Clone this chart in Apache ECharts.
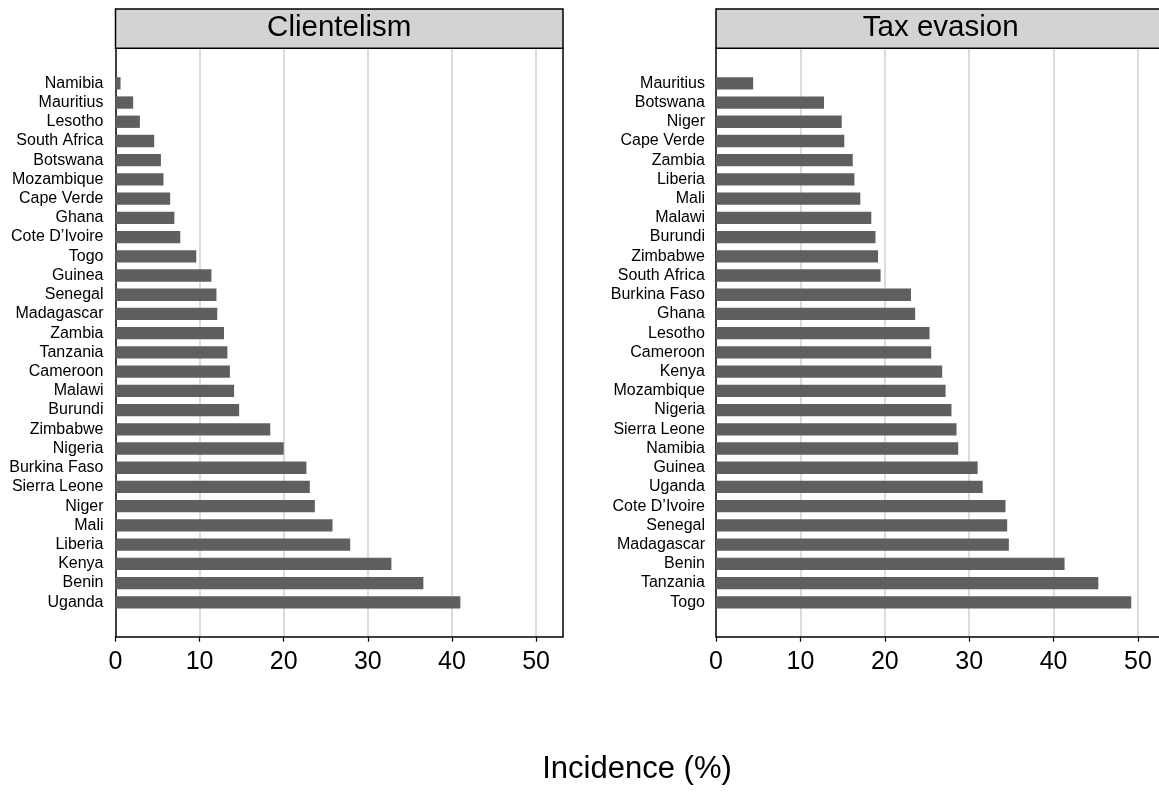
<!DOCTYPE html>
<html>
<head>
<meta charset="utf-8">
<script src="https://cdn.jsdelivr.net/npm/echarts@6/dist/echarts.min.js"></script>
<style>
html,body{margin:0;padding:0;background:#fff;}
#chart{width:1159px;height:794px;}
</style>
</head>
<body>
<div id="chart"></div>
<script>
const panelTitles = ['Clientelism', 'Tax evasion'];
const axisTitle = 'Incidence (%)';

const clientelismCountries = ['Namibia','Mauritius','Lesotho','South Africa','Botswana','Mozambique','Cape Verde','Ghana','Cote D\u2019Ivoire','Togo','Guinea','Senegal','Madagascar','Zambia','Tanzania','Cameroon','Malawi','Burundi','Zimbabwe','Nigeria','Burkina Faso','Sierra Leone','Niger','Mali','Liberia','Kenya','Benin','Uganda'];
const clientelismValues = [0.6,2.1,2.9,4.6,5.4,5.7,6.5,7.0,7.7,9.6,11.4,12.0,12.1,12.9,13.3,13.6,14.1,14.7,18.4,20.0,22.7,23.1,23.7,25.8,27.9,32.8,36.6,41.0];

const taxCountries = ['Mauritius','Botswana','Niger','Cape Verde','Zambia','Liberia','Mali','Malawi','Burundi','Zimbabwe','South Africa','Burkina Faso','Ghana','Lesotho','Cameroon','Kenya','Mozambique','Nigeria','Sierra Leone','Namibia','Guinea','Uganda','Cote D\u2019Ivoire','Senegal','Madagascar','Benin','Tanzania','Togo'];
const taxValues = [4.4,12.8,14.9,15.2,16.2,16.4,17.1,18.4,18.9,19.2,19.5,23.1,23.6,25.3,25.5,26.8,27.2,27.9,28.5,28.7,31.0,31.6,34.3,34.5,34.7,41.3,45.3,49.2];

const xTickValues = [0, 10, 20, 30, 40, 50];
const xMin = 0, xMax = 53.2, xInterval = 10;

const FONT = '"Liberation Sans", Arial, Helvetica, sans-serif';
const BAR = '#5f5f5f';

const panels = [
  {left: 115.5, width: 447.5, cats: clientelismCountries, vals: clientelismValues, labelMargin: 12},
  {left: 716, width: 449, cats: taxCountries, vals: taxValues, labelMargin: 11}
];
const outerTop = 48.3, outerHeight = 588.4;
const innerTop = 73.7, innerHeight = 538.2;
const frameLine = {color: '#000', width: 1.5};

const grids = [], xAxes = [], yAxes = [], series = [], graphics = [];
panels.forEach((p, i) => {
  const gOuter = grids.length;
  grids.push({left: p.left, top: outerTop, width: p.width, height: outerHeight, show: false, outerBoundsMode: 'none', containLabel: false});
  xAxes.push({gridIndex: gOuter, type: 'value', min: xMin, max: xMax, interval: xInterval,
    axisLine: {show: true, onZero: false, lineStyle: frameLine},
    axisTick: {show: true, length: 5, customValues: xTickValues, lineStyle: {color: '#000', width: 1.2}},
    axisLabel: {fontSize: 25, color: '#000', fontFamily: FONT, margin: 13, customValues: xTickValues},
    splitLine: {show: true, showMaxLine: true, showMinLine: false, lineStyle: {color: '#dcdcdc', width: 2}}
  });
  yAxes.push({gridIndex: gOuter, type: 'value', position: 'left', min: 0, max: 1,
    axisLine: {show: true, onZero: false, lineStyle: frameLine}, axisTick: {show: false},
    axisLabel: {show: false}, splitLine: {show: false}});
  yAxes.push({gridIndex: gOuter, type: 'value', position: 'right', min: 0, max: 1,
    axisLine: {show: true, onZero: false, lineStyle: frameLine}, axisTick: {show: false},
    axisLabel: {show: false}, splitLine: {show: false}});
  const gInner = grids.length;
  grids.push({left: p.left, top: innerTop, width: p.width, height: innerHeight, show: false, outerBoundsMode: 'none', containLabel: false});
  xAxes.push({gridIndex: gInner, type: 'value', min: xMin, max: xMax, show: false, splitLine: {show: false}});
  const xi = xAxes.length - 1;
  yAxes.push({gridIndex: gInner, type: 'category', data: p.cats, inverse: true,
    axisLine: {show: false}, axisTick: {show: false}, splitLine: {show: false},
    axisLabel: {fontSize: 16, color: '#000', fontFamily: FONT, margin: p.labelMargin, interval: 0}
  });
  const yi = yAxes.length - 1;
  series.push({type: 'bar', xAxisIndex: xi, yAxisIndex: yi,
    data: p.vals, barWidth: '64%', itemStyle: {color: BAR}, silent: true, z: 3});
  graphics.push({type: 'rect', shape: {x: p.left, y: 9, width: p.width, height: outerTop - 9},
    style: {fill: '#d3d3d3', stroke: '#000', lineWidth: 1.5}, z: 10});
  graphics.push({type: 'text', x: p.left + 447.5 / 2 + (i === 1 ? 1 : 0), y: 27.5,
    style: {text: panelTitles[i], font: '29.5px ' + FONT, fill: '#000', align: 'center', verticalAlign: 'middle'}, z: 11});
});
graphics.push({type: 'text', x: 637, y: 769.5,
  style: {text: axisTitle, font: '31px ' + FONT, fill: '#000', align: 'center', verticalAlign: 'middle'}});

const chart = echarts.init(document.getElementById('chart'), null, {renderer: 'canvas'});
chart.setOption({
  animation: false,
  backgroundColor: '#fff',
  grid: grids,
  xAxis: xAxes,
  yAxis: yAxes,
  series: series,
  graphic: graphics
});
</script>
</body>
</html>
